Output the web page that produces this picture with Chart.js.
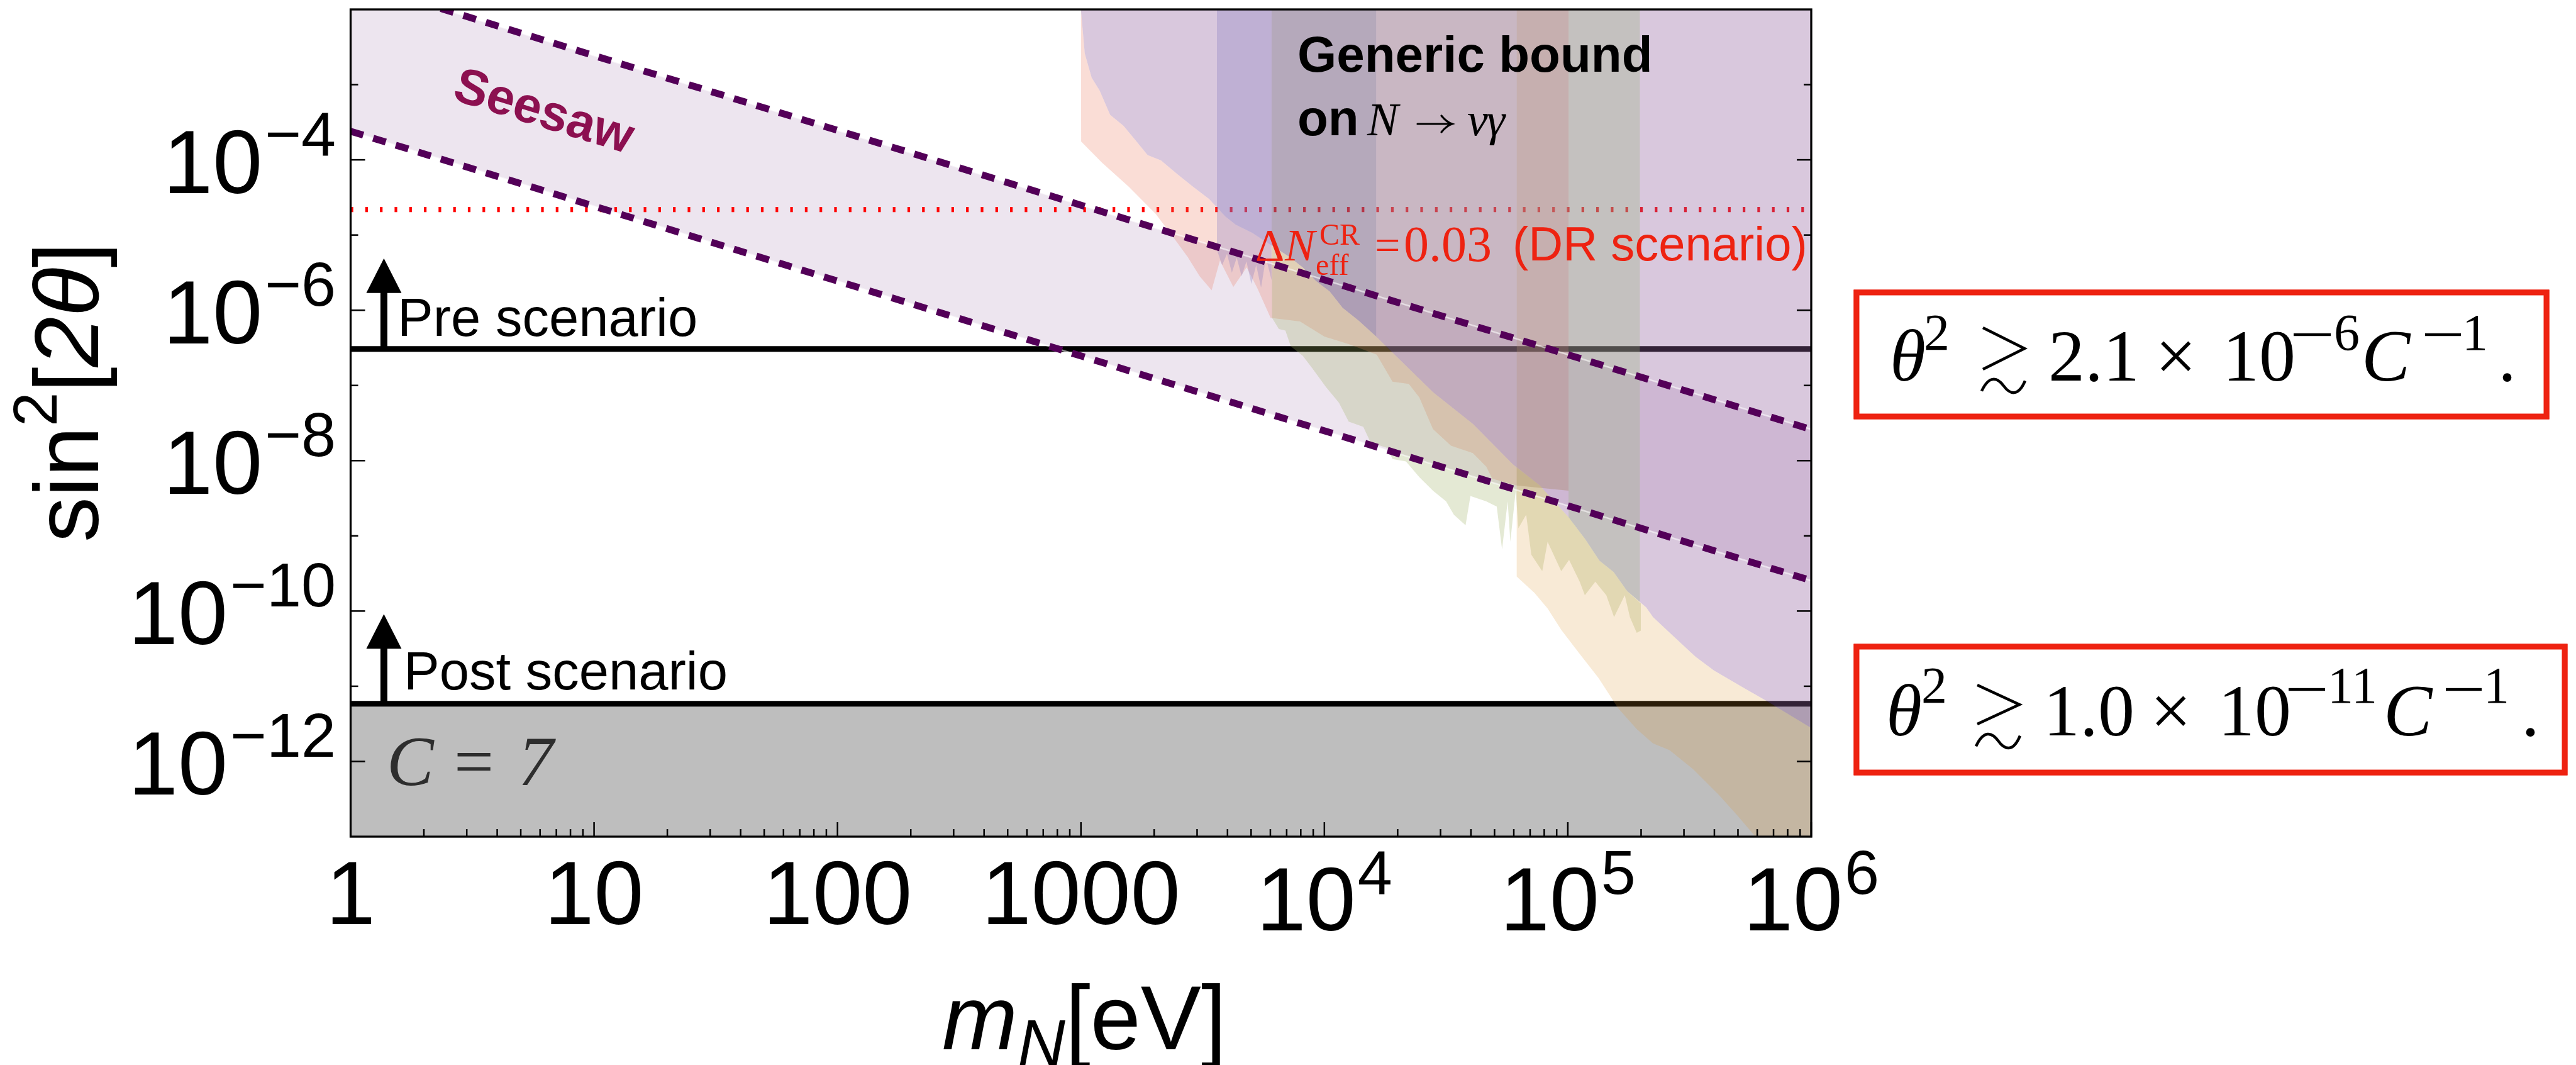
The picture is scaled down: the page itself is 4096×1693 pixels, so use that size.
<!DOCTYPE html>
<html><head><meta charset="utf-8">
<script src="https://cdn.jsdelivr.net/npm/chart.js@4.4.1/dist/chart.umd.min.js"></script>
<style>html,body{margin:0;padding:0;background:#fff;overflow:hidden}canvas{display:block}</style>
</head><body>
<canvas id="c" width="4096" height="1693" style="width:4096px;height:1693px"></canvas>
<script>
// ---------------- data ----------------
const X_MIN = 1, X_MAX = 1e6, Y_MIN = 1e-13, Y_MAX = 1e-2;
const X_MAJOR_TICKS = [1, 10, 100, 1000, 1e4, 1e5, 1e6];
const X_TICK_LABELS = [['1',''],['10',''],['100',''],['1000',''],['10','4'],['10','5'],['10','6']];
const X_MINOR_MULT = [2,3,4,5,6,7,8,9];
const Y_TICKS = [1e-12,1e-11,1e-10,1e-9,1e-8,1e-7,1e-6,1e-5,1e-4,1e-3];
const Y_TICK_LABELS = ['−12','','−10','','−8','','−6','','−4',''];

const LINE_M = [1, 1e6];
const SEESAW_UPPER = [2.4e-2, 2.6e-8];
const SEESAW_LOWER = [2.4e-4, 2.54e-10];
const PRE_LEVEL = 3.06e-7;
const POST_LEVEL = 5.85e-12;
const DR_LEVEL = 2.18e-5;
const ARROW_M = 1.37;
const PRE_ARROW_TIP = 4.9e-6;
const POST_ARROW_TIP = 9.1e-11;

// lower edge of the purple "generic bound" region  [m, sin^2 2theta]
const P_EDGE = [[1000,1e-2],[1037,2.60e-3],[1107,1.24e-3],[1194,8.32e-4],[1318,3.98e-4],[1496,2.84e-4],[1656,1.91e-4],[1879,1.16e-4],[2133,9.84e-5],[2483,6.49e-5],[2897,4.35e-5],[3365,3.0e-5],[3917,1.77e-5],[4325,1.37e-5],[5047,1.07e-5],[6095,7.19e-6],[7178,5.14e-6],[8147,3.72e-6],[9247,2.45e-6],[10520,1.78e-6],[11885,1.08e-6],[13870,7.24e-7],[16330,4.47e-7],[27925,8.18e-8],[40740,3.09e-8],[59570,8.91e-9],[76740,4.68e-9],[101160,1.74e-9],[118000,9.02e-10],[134900,4.68e-10],[154200,3.31e-10],[175400,1.84e-10],[209900,1.12e-10],[223900,8.32e-11],[262400,5.13e-11],[334200,2.48e-11],[398100,1.62e-11],[520000,9.77e-12],[650100,6.46e-12],[1e6,2.79e-12]];

// peach region (outline)
const O_REGION = [[1000,1e-2],[1037,2.60e-3],[1107,1.24e-3],[1194,8.32e-4],[1318,3.98e-4],[1496,2.84e-4],[1656,1.91e-4],[1879,1.16e-4],[2133,9.84e-5],[2483,6.49e-5],[2897,4.35e-5],[3365,3.0e-5],[3917,1.77e-5],[4325,1.37e-5],[5047,1.07e-5],[6095,7.19e-6],[7178,5.14e-6],[8147,3.72e-6],[9247,2.45e-6],[10520,1.78e-6],[11885,1.08e-6],[13870,7.24e-7],[16330,4.47e-7],[27925,8.18e-8],[40740,3.09e-8],[59570,8.91e-9],[61660,8.1e-9],
 [61660,1e-2],[100700,1e-2],[100700,3.98e-9],
 [61660,4.68e-9],[48980,5.75e-9],[46240,8.32e-9],[40740,1.26e-8],[33110,1.58e-8],[27925,2.63e-8],[24550,6.92e-8],[22230,1.05e-7],[19050,1.12e-7],[16410,2.57e-7],[12590,3.55e-7],[10000,4.47e-7],[7943,7.08e-7],[6012,7.94e-7],[5309,1.95e-6],[4797,3.72e-6],[4227,2.04e-6],[3724,4.57e-6],[3443,1.84e-6],[3076,2.82e-6],[2742,5.13e-6],[2360,1.0e-5],[2028,1.91e-5],[1574,4.37e-5],[1222,9.12e-5],[1002,1.75e-4]];

// jagged light-green region: lower edge, left to right
const J_EDGE = [[6095,7.94e-7],[6501,5.62e-7],[6918,5.37e-7],[7278,3.31e-7],[8147,2.48e-7],[8913,1.70e-7],[10140,9.55e-8],[11480,5.89e-8],[12590,3.31e-8],[14450,2.82e-8],[15490,1.74e-8],[18110,1.48e-8],[19050,1.05e-8],[21630,9.77e-9],[24550,6.03e-9],[27925,3.98e-9],[31620,2.88e-9],[34040,1.91e-9],[38020,1.38e-9],[39810,3.39e-9],[46240,2.88e-9],[51050,2.45e-9],[53700,6.61e-10],[56620,2.88e-9],[58070,8.32e-10],[61090,3.98e-9],[62660,1.26e-9],[67450,1.91e-9],[70790,5.62e-10],[78520,3.39e-10],[82600,8.32e-10],[93970,3.39e-10],[101200,4.79e-10],[111900,2.45e-10],[117500,1.62e-10],[129700,2.45e-10],[143900,1.62e-10],[154900,8.32e-11],[171400,1.62e-10],[179900,8.32e-11],[191900,5.13e-11],[199500,5.50e-11],[199500,1.26e-10]];

// cream region: left edge and lower edge
const Y_EDGE = [[61660,8.1e-9],[61660,2.88e-10],[72950,1.74e-10],[82600,1.08e-10],[93970,5.62e-11],[111900,2.69e-11],[133700,1.29e-11],[160700,5.13e-12],[191900,2.69e-12],[223900,1.74e-12],[261800,1.41e-12],[326600,7.94e-13],[415900,3.63e-13],[497700,1.91e-13],[579400,1.07e-13],[590000,1e-13],[1e6,1e-13]];

// vertical bands
const STRIP_A = [[3620,1e-2],[6070,1e-2],[6070,2.51e-6],[5754,5.01e-6],[5495,2.0e-6],[5248,3.98e-6],[5012,2.24e-6],[4786,4.47e-6],[4571,2.82e-6],[4365,5.01e-6],[4169,3.16e-6],[3981,5.62e-6],[3802,3.98e-6],[3620,6.31e-6]];
const STRIP_B = [[6070,1e-2],[16330,1e-2],[16330,4.47e-7],[13870,7.24e-7],[11885,1.08e-6],[10520,1.78e-6],[9247,2.45e-6],[8147,3.72e-6],[7178,5.14e-6],[6070,7.3e-6]];
const STRIP_C = [[16330,1e-2],[61660,1e-2],[61660,8.1e-9],[59570,8.91e-9],[40740,3.09e-8],[27925,8.18e-8],[16330,4.47e-7]];
const STRIP_D = [[61660,1e-2],[100700,1e-2],[100700,3.98e-9],[61660,4.68e-9]];
const STRIP_E = [[100700,1e-2],[197700,1e-2],[197700,1.32e-10],[175400,1.84e-10],[154200,3.31e-10],[134900,4.68e-10],[118000,9.02e-10],[100700,1.77e-9]];

// ---------------- build ----------------
const pts = a => a.map(p => ({x: p[0], y: p[1]}));
const between = (a, lo, hi) => a.filter(p => p[0] > lo && p[0] <= hi);
const P_REGION = P_EDGE.concat([[X_MAX, Y_MAX]]);
const J_REGION = J_EDGE.concat(between(P_EDGE, 6095, 199500).reverse(), [[6095,7.19e-6]]);
const Y_REGION = Y_EDGE.concat(between(P_EDGE, 61660, 1e6).reverse());
const SEESAW_REGION = [[LINE_M[0],SEESAW_UPPER[0]],[LINE_M[1],SEESAW_UPPER[1]],[LINE_M[1],SEESAW_LOWER[1]],[LINE_M[0],SEESAW_LOWER[0]]];

function shape(data, color, order){
  return {data: pts(data), showLine:true, fill:'shape', backgroundColor: color, borderWidth:0, borderColor:'rgba(0,0,0,0)', pointRadius:0, tension:0, order, clip:0};
}
function hline(level, color, width, order, extra){
  return Object.assign({data: LINE_M.map(m => ({x:m, y:level})), showLine:true, fill:false, borderColor:color, borderWidth:width, pointRadius:0, order, clip:0, borderCapStyle:'butt'}, extra||{});
}
function sline(vals, color, width, order, dash){
  return {data: LINE_M.map((m,i)=>({x:m, y:vals[i]})), showLine:true, fill:false, borderColor:color, borderWidth:width, pointRadius:0, order, clip:0, borderDash: dash||[], borderCapStyle:'butt'};
}

const datasets = [
  shape(SEESAW_REGION, 'rgba(183,151,191,0.25)', 100),
  hline(POST_LEVEL, '#000', 9, 90, {fill:'start', backgroundColor:'#bebebe'}),
  hline(PRE_LEVEL, '#000', 9, 89),
  hline(DR_LEVEL, '#ff0000', 8.3, 88, {borderDash:[4.2, 19.1]}),
  shape(O_REGION, 'rgba(235,119,91,0.25)', 80),
  shape(J_REGION, 'rgba(155,175,95,0.27)', 79),
  shape(Y_REGION, 'rgba(220,150,50,0.2)', 78),
  shape(P_REGION, 'rgba(146,98,158,0.35)', 70),
  shape(STRIP_A, 'rgba(134,123,191,0.3)', 60),
  shape(STRIP_B, 'rgba(100,100,108,0.3)', 59),
  shape(STRIP_C, 'rgba(164,147,137,0.3)', 58),
  shape(STRIP_D, 'rgba(158,165,130,0.3)', 57),
  shape(STRIP_E, 'rgba(150,180,121,0.3)', 56),
  sline(SEESAW_UPPER, 'rgba(255,255,255,0.55)', 2.5, 12),
  sline(SEESAW_LOWER, 'rgba(255,255,255,0.55)', 2.5, 11),
  sline(SEESAW_UPPER, '#530058', 11, 5, [21, 16.5]),
  sline(SEESAW_LOWER, '#530058', 11, 4, [21, 16.5])
];

// ---------------- drawing helpers ----------------
const SANS = '"Liberation Sans", Arial, sans-serif';
const SERIF = '"Liberation Serif", "Times New Roman", serif';
function rich(ctx, parts, x, y, align){
  const ws = parts.map(p => { ctx.font = p.f; return ctx.measureText(p.t).width + (p.gap||0); });
  const w = ws.reduce((a,b)=>a+b,0);
  let cx = align==='right' ? x-w : align==='center' ? x-w/2 : x;
  parts.forEach((p,i) => { ctx.font = p.f; ctx.fillText(p.t, cx+(p.gap||0), y+(p.dy||0)); cx += ws[i]; });
}
function txt(ctx, t, f, x, y){ ctx.font = f; ctx.fillText(t, x, y); }
function gtrsim(ctx, x0, x1, yt, yb, tt, tb){
  ctx.beginPath(); ctx.moveTo(x0, yt); ctx.lineTo(x1, (yt+yb)/2); ctx.lineTo(x0, yb); ctx.stroke();
  const h = tb-tt, w = x1-x0;
  ctx.beginPath(); ctx.moveTo(x0-2, tb-h*0.2);
  ctx.bezierCurveTo(x0+w*0.15, tt-h*0.15, x0+w*0.35, tt, x0+w*0.5, tt+h*0.5);
  ctx.bezierCurveTo(x0+w*0.65, tb, x0+w*0.85, tb+h*0.15, x1+1, tt+h*0.2);
  ctx.stroke();
}
function minus(ctx, x0, x1, y){ ctx.fillRect(x0, y-2.2, x1-x0, 4.4); }
function rarrow(ctx, x0, x1, y){
  ctx.save(); ctx.lineWidth = 3.2; ctx.lineCap = 'round';
  ctx.beginPath(); ctx.moveTo(x0, y); ctx.lineTo(x1, y); ctx.stroke();
  ctx.beginPath(); ctx.moveTo(x1-16, y-13); ctx.quadraticCurveTo(x1-8, y-3, x1+1, y); ctx.quadraticCurveTo(x1-8, y+3, x1-16, y+13); ctx.stroke();
  ctx.restore();
}

const deco = {
  id: 'deco',
  afterDatasetsDraw(chart){
    const {ctx, chartArea:a, scales:{x, y}} = chart;
    ctx.save();
    ctx.strokeStyle = '#000'; ctx.lineWidth = 2.5;
    const seg = (x0,y0,x1,y1) => { ctx.beginPath(); ctx.moveTo(x0,y0); ctx.lineTo(x1,y1); ctx.stroke(); };
    Y_TICKS.forEach((v,i) => { const py = y.getPixelForValue(v); const len = Y_TICK_LABELS[i] ? 23 : 12; seg(a.left,py,a.left+len,py); seg(a.right,py,a.right-len,py); });
    X_MAJOR_TICKS.forEach(v => { const px = x.getPixelForValue(v); seg(px,a.bottom,px,a.bottom-23); });
    X_MAJOR_TICKS.slice(0,-1).forEach(d => X_MINOR_MULT.forEach(k => { const px = x.getPixelForValue(k*d); seg(px,a.bottom,px,a.bottom-12); }));
    ctx.lineWidth = 3.3; ctx.strokeRect(a.left, a.top, a.right-a.left, a.bottom-a.top);

    // arrows
    ctx.fillStyle = '#000';
    [[PRE_LEVEL, PRE_ARROW_TIP],[POST_LEVEL, POST_ARROW_TIP]].forEach(([base, tip]) => {
      const px = x.getPixelForValue(ARROW_M), pb = y.getPixelForValue(base), pt = y.getPixelForValue(tip);
      const hb = pt + 55;
      ctx.fillRect(px-5.5, hb-1, 11, pb-hb+1);
      ctx.beginPath(); ctx.moveTo(px, pt); ctx.lineTo(px+28, hb); ctx.lineTo(px-28, hb); ctx.closePath(); ctx.fill();
    });
    ctx.restore();
  },
  afterDraw(chart){
    const {ctx, chartArea:a, scales:{x, y}} = chart;
    ctx.save();
    ctx.textAlign = 'left'; ctx.textBaseline = 'alphabetic'; ctx.fillStyle = '#000';
    // y tick labels
    Y_TICKS.forEach((v,i) => {
      if (!Y_TICK_LABELS[i]) return;
      const py = y.getPixelForValue(v);
      rich(ctx, [{t:'10', f:`142px ${SANS}`}, {t:Y_TICK_LABELS[i], f:`99px ${SANS}`, dy:-60, gap:4}], 534, py+52.5, 'right');
    });
    // x tick labels
    X_MAJOR_TICKS.forEach((v,i) => {
      const px = x.getPixelForValue(v); const [b, e] = X_TICK_LABELS[i];
      if (e) rich(ctx, [{t:b, f:`142px ${SANS}`}, {t:e, f:`99px ${SANS}`, dy:-58, gap:3}], px, 1479, 'center');
      else rich(ctx, [{t:b, f:`142px ${SANS}`}], px, 1469, 'center');
    });
    // axis titles
    rich(ctx, [{t:'m', f:`italic 144px ${SANS}`}, {t:'N', f:`italic 105px ${SANS}`, dy:27}, {t:'[eV]', f:`144px ${SANS}`}], 1498, 1668, 'left');
    ctx.save(); ctx.translate(156, 862); ctx.rotate(-Math.PI/2);
    rich(ctx, [{t:'sin', f:`144px ${SANS}`}, {t:'2', f:`98px ${SANS}`, dy:-66}, {t:'[', f:`144px ${SANS}`}, {t:'2θ', f:`italic 144px ${SANS}`}, {t:']', f:`144px ${SANS}`}], 0, 0, 'left');
    ctx.restore();

    // scenario labels
    txt(ctx, 'Pre scenario', `85px ${SANS}`, 632, 534);
    txt(ctx, 'Post scenario', `85px ${SANS}`, 642, 1096);
    // C = 7
    ctx.fillStyle = '#2e2e2e';
    txt(ctx, 'C', `italic 112px ${SERIF}`, 615, 1248);
    txt(ctx, '=', `112px ${SERIF}`, 722, 1248);
    txt(ctx, '7', `italic 112px ${SERIF}`, 824, 1248);

    // Seesaw
    ctx.save(); ctx.fillStyle = '#8c1050'; ctx.translate(864, 180); ctx.rotate(17.16*Math.PI/180);
    ctx.font = `bold 80px ${SANS}`; ctx.textAlign = 'center'; ctx.textBaseline = 'middle'; ctx.fillText('Seesaw', 0, 0);
    ctx.restore();

    // Generic bound
    ctx.fillStyle = '#000'; ctx.strokeStyle = '#000';
    txt(ctx, 'Generic bound', `bold 80px ${SANS}`, 2063, 114);
    txt(ctx, 'on', `bold 80px ${SANS}`, 2063, 215);
    txt(ctx, 'N', `italic 74px ${SERIF}`, 2174, 215);
    rarrow(ctx, 2254, 2308, 197);
    txt(ctx, 'ν', `italic 74px ${SERIF}`, 2333, 215);
    txt(ctx, 'γ', `italic 74px ${SERIF}`, 2364, 215);

    // Delta N_eff label
    ctx.fillStyle = '#ee2211';
    txt(ctx, 'Δ', `72px ${SERIF}`, 1996, 414);
    txt(ctx, 'N', `italic 72px ${SERIF}`, 2043, 414);
    txt(ctx, 'CR', `48px ${SERIF}`, 2098, 389);
    txt(ctx, 'eff', `48px ${SERIF}`, 2092, 437);
    txt(ctx, '=', `72px ${SERIF}`, 2186, 414);
    txt(ctx, '0.03', `80px ${SERIF}`, 2232, 415);
    txt(ctx, '(DR scenario)', `76px ${SANS}`, 2405, 414);

    // boxed formulas
    ctx.strokeStyle = '#ee2211'; ctx.lineWidth = 9;
    ctx.strokeRect(2952, 465, 1097, 197);
    ctx.strokeRect(2952, 1028, 1126, 200);
    ctx.lineWidth = 3; ctx.strokeRect(2949, 462, 1103, 203); ctx.strokeRect(2949, 1025, 1132, 206);
    ctx.fillStyle = '#000'; ctx.strokeStyle = '#000'; ctx.lineWidth = 4.5; ctx.lineJoin = 'miter';
    // box 1
    txt(ctx, 'θ', `italic 116px ${SERIF}`, 3005, 605);
    txt(ctx, '2', `82px ${SERIF}`, 3059, 556);
    gtrsim(ctx, 3153, 3219, 521, 587, 600, 627);
    txt(ctx, '2.1', `116px ${SERIF}`, 3257, 605);
    txt(ctx, '×', `116px ${SERIF}`, 3427, 605);
    txt(ctx, '10', `116px ${SERIF}`, 3534, 605);
    minus(ctx, 3647, 3706, 532);
    txt(ctx, '6', `82px ${SERIF}`, 3711, 556);
    txt(ctx, 'C', `italic 116px ${SERIF}`, 3755, 605);
    minus(ctx, 3856, 3913, 532);
    txt(ctx, '1', `82px ${SERIF}`, 3915, 556);
    txt(ctx, '.', `116px ${SERIF}`, 3972, 605);
    // box 2
    txt(ctx, 'θ', `italic 116px ${SERIF}`, 2999, 1169);
    txt(ctx, '2', `82px ${SERIF}`, 3055, 1117);
    gtrsim(ctx, 3144, 3211, 1089, 1151, 1164, 1192);
    txt(ctx, '1.0', `116px ${SERIF}`, 3249, 1169);
    txt(ctx, '×', `116px ${SERIF}`, 3419, 1169);
    txt(ctx, '10', `116px ${SERIF}`, 3527, 1169);
    minus(ctx, 3639, 3697, 1096);
    txt(ctx, '11', `82px ${SERIF}`, 3701, 1117);
    txt(ctx, 'C', `italic 116px ${SERIF}`, 3790, 1169);
    minus(ctx, 3889, 3946, 1096);
    txt(ctx, '1', `82px ${SERIF}`, 3949, 1117);
    txt(ctx, '.', `116px ${SERIF}`, 4009, 1169);
    ctx.restore();
  }
};

new Chart(document.getElementById('c'), {
  type: 'scatter',
  data: { datasets },
  options: {
    responsive: false, devicePixelRatio: 1, animation: false, events: [],
    layout: { padding: { left: 557.5, right: 1216, top: 15, bottom: 363 } },
    plugins: { legend: {display:false}, tooltip: {enabled:false} },
    scales: {
      x: { type:'logarithmic', min:X_MIN, max:X_MAX, display:false },
      y: { type:'logarithmic', min:Y_MIN, max:Y_MAX, display:false }
    }
  },
  plugins: [deco]
});
</script>
</body></html>
